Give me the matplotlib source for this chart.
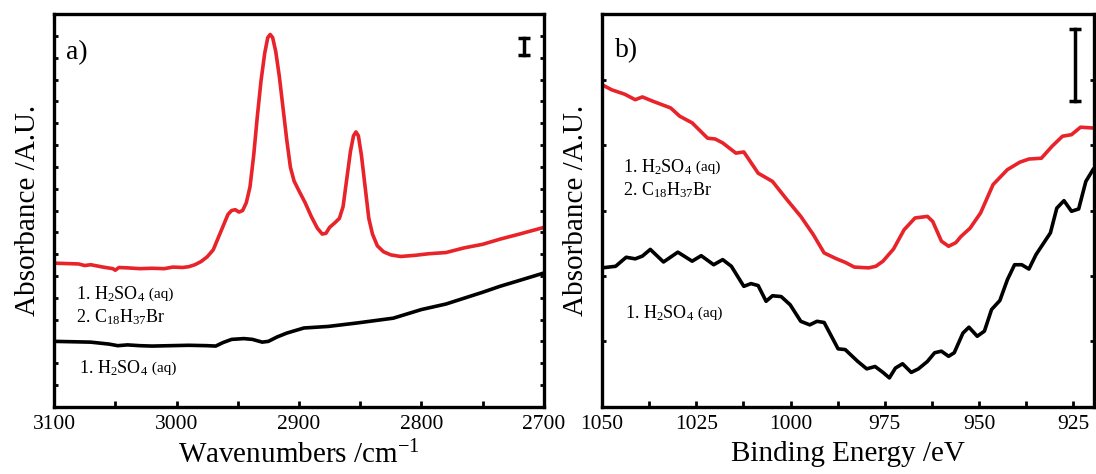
import numpy as np
import matplotlib
matplotlib.use("Agg")
import matplotlib.pyplot as plt

plt.rcParams['font.family'] = ['Liberation Serif', 'DejaVu Serif']
plt.rcParams['mathtext.fontset'] = 'custom'
plt.rcParams['mathtext.rm'] = 'Liberation Serif'

RED = '#e8232a'

# panel a) IR spectra, wavenumber (cm-1) vs absorbance (arbitrary units)
wn_red = [3100, 3090, 3080, 3075, 3070, 3060, 3052, 3050, 3047, 3040, 3030, 3020, 3010,
          3003, 2995, 2990, 2985, 2980, 2975, 2970, 2966, 2962, 2958, 2955, 2952, 2949,
          2946, 2943, 2940, 2937, 2934, 2931, 2928, 2925.5, 2923.5, 2921.5, 2919, 2916,
          2913, 2910, 2907, 2904, 2900, 2895, 2890, 2885, 2881, 2878, 2875, 2871, 2867,
          2864, 2861, 2858, 2855.5, 2853.5, 2851.5, 2849, 2846, 2843, 2840, 2836, 2831,
          2825, 2817, 2805, 2794, 2780, 2765, 2750, 2736, 2720, 2700]
abs_red = [0.366, 0.365, 0.364, 0.360, 0.362, 0.356, 0.352, 0.348, 0.355, 0.354, 0.352, 0.353, 0.352,
           0.356, 0.355, 0.357, 0.362, 0.370, 0.382, 0.400, 0.430, 0.460, 0.490, 0.500, 0.502, 0.496,
           0.500, 0.520, 0.560, 0.640, 0.740, 0.830, 0.900, 0.940, 0.948, 0.940, 0.905, 0.840,
           0.760, 0.680, 0.610, 0.575, 0.550, 0.520, 0.485, 0.455, 0.440, 0.442, 0.457, 0.468, 0.480,
           0.510, 0.580, 0.650, 0.690, 0.700, 0.690, 0.640, 0.560, 0.480, 0.440, 0.410, 0.395,
           0.387, 0.383, 0.386, 0.390, 0.393, 0.405, 0.414, 0.427, 0.440, 0.457]
wn_blk = [3100, 3085, 3070, 3055, 3048, 3040, 3030, 3020, 3005, 2990, 2975, 2968, 2962,
          2955, 2945, 2938, 2930, 2925, 2918, 2910, 2896, 2876, 2852, 2823, 2800, 2780,
          2765, 2750, 2736, 2720, 2700]
abs_blk = [0.167, 0.166, 0.165, 0.160, 0.156, 0.158, 0.156, 0.155, 0.156, 0.157, 0.156, 0.155, 0.164,
           0.172, 0.174, 0.172, 0.165, 0.167, 0.178, 0.188, 0.201, 0.205, 0.214, 0.226, 0.248, 0.262,
           0.277, 0.292, 0.307, 0.322, 0.341]

# panel b) binding energy (eV) vs absorbance
be_red = [1050, 1047.4, 1044, 1041.2, 1039.3, 1036.5, 1031.8, 1029.4, 1026.1, 1022, 1020, 1018,
          1014.5, 1012.4, 1008.6, 1004.8, 1001, 997.3, 994, 991.1, 987.8, 985.5, 983.1, 979.3,
          977.4, 975.5, 972.7, 969.9, 967, 963.7, 962.3, 960, 958.1, 956.2, 954.8, 952.4,
          949.6, 946.3, 942.5, 939.2, 936.8, 933.5, 930.7, 927.9, 925.5, 923.1, 919.8]
xb_red = [0.820, 0.807, 0.796, 0.782, 0.789, 0.778, 0.761, 0.740, 0.723, 0.684, 0.682, 0.672,
          0.646, 0.649, 0.595, 0.574, 0.528, 0.485, 0.439, 0.392, 0.377, 0.368, 0.356, 0.354,
          0.358, 0.371, 0.402, 0.451, 0.481, 0.485, 0.472, 0.422, 0.409, 0.418, 0.434, 0.455,
          0.494, 0.566, 0.604, 0.623, 0.631, 0.633, 0.663, 0.689, 0.693, 0.712, 0.710]
be_blk = [1050, 1046.4, 1043.6, 1041.2, 1039.3, 1037.2, 1033.7, 1029.9, 1026.1, 1023.7, 1020.4,
          1018, 1015.7, 1012.4, 1010.5, 1008.6, 1006.5, 1004.8, 1002.5, 1000.1, 997.3, 994.9,
          993, 991.1, 987.4, 985.5, 982.2, 979.8, 977.6, 975.5, 973.8, 972.2, 970.3, 968,
          966.1, 963.7, 961.8, 960, 958.1, 956.6, 954.3, 952.7, 950.5, 948.6, 946.7, 944.5,
          942.5, 940.6, 938.7, 936.8, 934.9, 931.1, 929.4, 927.5, 925.5, 923.6, 921.7, 919.8]
xb_blk = [0.354, 0.358, 0.381, 0.377, 0.384, 0.401, 0.369, 0.394, 0.371, 0.385, 0.362,
          0.375, 0.358, 0.307, 0.314, 0.309, 0.269, 0.283, 0.281, 0.260, 0.218, 0.209,
          0.218, 0.215, 0.148, 0.146, 0.116, 0.097, 0.103, 0.088, 0.074, 0.099, 0.110, 0.088,
          0.097, 0.116, 0.138, 0.142, 0.129, 0.138, 0.188, 0.203, 0.180, 0.193, 0.248, 0.271,
          0.324, 0.362, 0.362, 0.351, 0.388, 0.443, 0.506, 0.525, 0.498, 0.504, 0.574, 0.604]

fig = plt.figure(figsize=(10.96, 4.74), dpi=100)
axa = fig.add_axes([0.0493, 0.1414, 0.447, 0.829])
axb = fig.add_axes([0.5493, 0.1414, 0.449, 0.829])


def label(ax, x, y, step2=False):
    t = ax.text(x, y, r'1. $\mathregular{H_2SO_4}$', transform=ax.transAxes,
                fontsize=13, va='baseline')
    ax.annotate(' (aq)', xy=(1, 0.32), xycoords=t, fontsize=11, va='baseline')
    if step2:
        ax.text(x, y - 0.058, r'2. $\mathregular{C_{18}H_{37}Br}$', transform=ax.transAxes,
                fontsize=13, va='baseline')


def style(ax, nyt):
    for s in ax.spines.values():
        s.set_linewidth(2.4)
    ax.set_ylim(0, 1)
    ax.set_yticks(np.linspace(0, 1, nyt + 1))
    ax.set_yticklabels([])
    ax.tick_params(axis='y', which='both', direction='in', left=True, right=True,
                   length=3, width=2)
    ax.tick_params(axis='x', which='both', direction='in', top=False, bottom=True,
                   length=4, width=2, labelsize=15.5, pad=6)
    ax.set_ylabel('Absorbance /A.U.', fontsize=21, labelpad=6)


axa.plot(wn_red, abs_red, color=RED, lw=2.6, solid_joinstyle='round')
axa.plot(wn_blk, abs_blk, color='k', lw=2.6, solid_joinstyle='round')
axa.set_xlim(3100, 2700)
axa.set_xticks([3100, 3000, 2900, 2800, 2700])
axa.set_xticks([3050, 2950, 2850, 2750], minor=True)
style(axa, 18)
axa.set_xlabel(r'Wavenumbers /cm$\mathregular{^{-1}}$', fontsize=21, labelpad=5)
axa.text(0.025, 0.885, 'a)', transform=axa.transAxes, fontsize=20)
axa.plot([0.96, 0.96], [0.897, 0.939], color='k', lw=2.5, marker='_', ms=8, mew=2.5,
         transform=axa.transAxes)
label(axa, 0.045, 0.273, step2=True)
label(axa, 0.05, 0.085)

axb.plot(be_red, xb_red, color=RED, lw=2.6, solid_joinstyle='round')
axb.plot(be_blk, xb_blk, color='k', lw=2.6, solid_joinstyle='round')
axb.set_xlim(1050, 919.5)
axb.set_xticks([1050, 1025, 1000, 975, 950, 925])
axb.set_xticks([1037.5, 1012.5, 987.5, 962.5, 937.5], minor=True)
style(axb, 6)
axb.set_xlabel('Binding Energy /eV', fontsize=21, labelpad=5)
axb.text(0.026, 0.89, 'b)', transform=axb.transAxes, fontsize=20)
axb.plot([0.962, 0.962], [0.778, 0.963], color='k', lw=2.5, marker='_', ms=8, mew=2.5,
         transform=axb.transAxes)
label(axb, 0.042, 0.597, step2=True)
label(axb, 0.047, 0.225)

fig.savefig('out.png', dpi=100)
